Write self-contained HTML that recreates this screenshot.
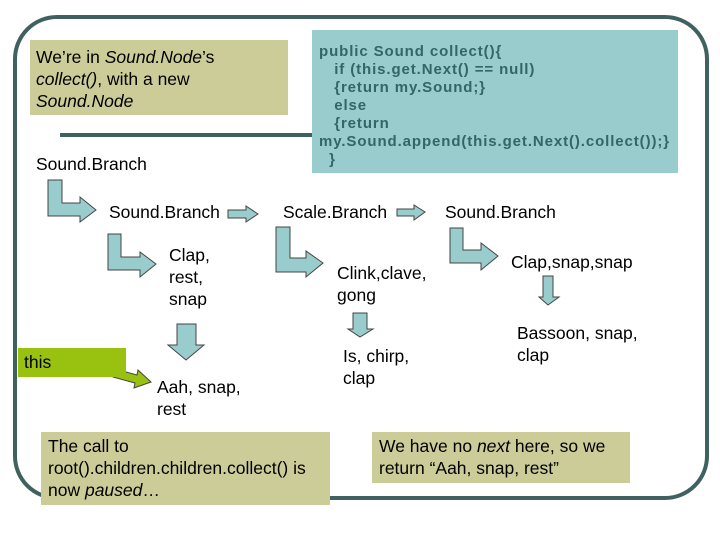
<!DOCTYPE html>
<html><head><meta charset="utf-8"><style>
html,body{margin:0;padding:0;background:#fff}
body{width:720px;height:540px;position:relative;overflow:hidden;font-family:"Liberation Sans",Arial,sans-serif}
.t{position:absolute;font-size:17.5px;line-height:22px;color:#000;white-space:nowrap}
.box{position:absolute;box-sizing:border-box}
</style></head><body>
<svg width="720" height="540" style="position:absolute;left:0;top:0">
<rect x="15" y="17" width="692" height="481" rx="42" ry="42" fill="none" stroke="#3f6160" stroke-width="4"/>
<line x1="60" y1="135" x2="315" y2="135" stroke="#3f6160" stroke-width="4"/>
<g fill="#99cccc" stroke="#444" stroke-width="1">
<polygon points="48,180 62,180 62,203 80,203 80,197 96,210 80,222 80,216 48,216"/>
<polygon points="108,234 121,234 121,257 140,257 140,252 156,264 140,277 140,270 108,270"/>
<polygon points="276,227 290,227 290,258 306,258 306,251 323,263 306,277 306,272 276,272"/>
<polygon points="450,228 463,228 463,250 481,250 481,243 498,256 481,270 481,263 450,263"/>
<polygon points="228,210 246,210 246,206 258,214 246,222 246,218 228,218"/>
<polygon points="397,209 414,209 414,205 425,212 414,220 414,216 397,216"/>
<polygon points="177,324 196,324 196,345 204,345 186,360 168,345 177,345"/>
<polygon points="353,313 367,313 367,329 373,329 360,337 348,329 353,329"/>
<polygon points="543,276 553,276 553,297 559,297 548,305 539,297 543,297"/>
</g>
<polygon points="115,369 137,375 138,370 151,382 134,388 135,383 113,377" fill="#99c10f" stroke="#444" stroke-width="1"/>
</svg>
<div class="box" style="left:30px;top:40px;width:258px;height:75px;background:#cccc99"></div>
<div class="t" style="left:36px;top:46px">We’re in <i>Sound.Node</i>’s<br><i>collect()</i>, with a new<br><i>Sound.Node</i></div>
<div class="box" style="left:312px;top:30px;width:366px;height:143px;background:#99cccc"></div>
<div class="t" style="left:319px;top:43px;font-size:15px;line-height:18px;font-weight:bold;color:#336666;letter-spacing:0.9px;white-space:pre">public Sound collect(){
   if (this.get.Next() == null)
   {return my.Sound;}
   else
   {return
my.Sound.append(this.get.Next().collect());}
  }</div>
<div class="t" style="left:36px;top:153px">Sound.Branch</div>
<div class="t" style="left:109px;top:201px">Sound.Branch</div>
<div class="t" style="left:283px;top:201px">Scale.Branch</div>
<div class="t" style="left:445px;top:201px">Sound.Branch</div>
<div class="t" style="left:169px;top:244px">Clap,<br>rest,<br>snap</div>
<div class="t" style="left:337px;top:262px">Clink,clave,<br>gong</div>
<div class="t" style="left:511px;top:251px">Clap,snap,snap</div>
<div class="t" style="left:343px;top:345px">Is, chirp,<br>clap</div>
<div class="t" style="left:517px;top:322px">Bassoon, snap,<br>clap</div>
<div class="t" style="left:157px;top:376px">Aah, snap,<br>rest</div>
<div class="box" style="left:18px;top:348px;width:108px;height:29px;background:#99c10f"></div>
<div class="t" style="left:24px;top:351px">this</div>
<div class="box" style="left:41px;top:432px;width:289px;height:73px;background:#cccc99"></div>
<div class="t" style="left:48px;top:435px">The call to<br>root().children.children.collect() is<br>now <i>paused</i>…</div>
<div class="box" style="left:372px;top:432px;width:258px;height:51px;background:#cccc99"></div>
<div class="t" style="left:379px;top:435px">We have no <i>next</i> here, so we<br>return “Aah, snap, rest”</div>
</body></html>
